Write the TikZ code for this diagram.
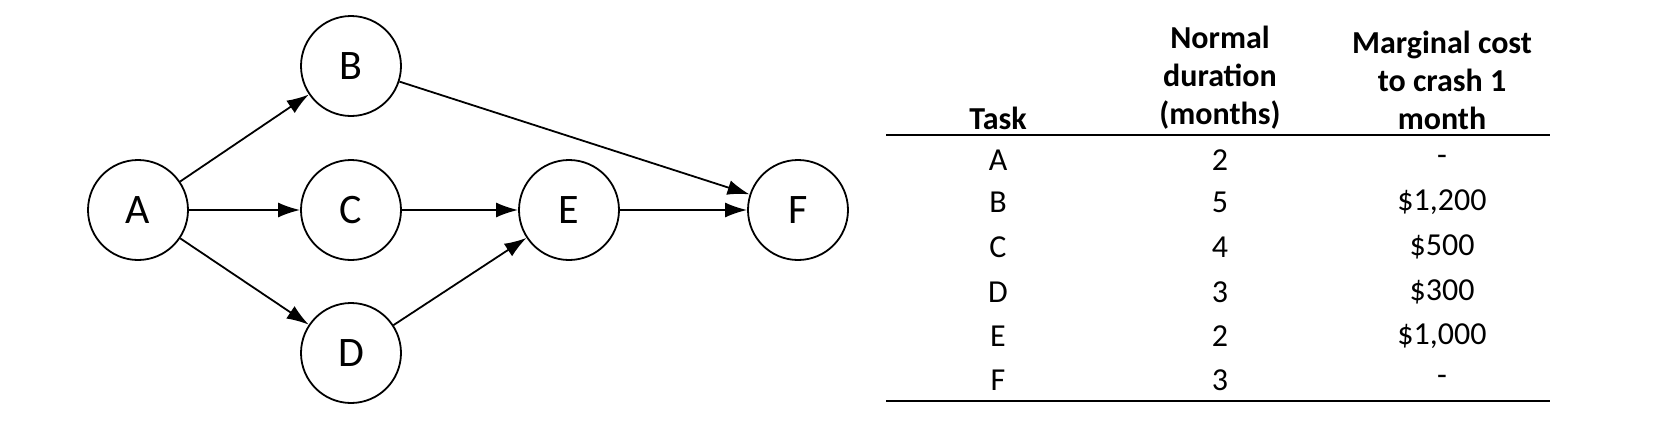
\documentclass[tikz,border=0pt]{standalone}
\usepackage{fontspec}
\setmainfont{Carlito}
\usetikzlibrary{arrows.meta}
\begin{document}
\begin{tikzpicture}[x=1pt,y=-1pt,
  nd/.style={circle,draw,line width=1.8pt,minimum size=100pt,inner sep=0pt,font=\fontsize{42}{42}\selectfont},
  ar/.style={line width=1.8pt,-{Latex[length=22pt,width=15pt]}},
  tx/.style={font=\fontsize{32}{38}\selectfont,inner sep=0pt},
  hd/.style={font=\fontsize{32}{38}\selectfont\bfseries,inner sep=0pt,align=center,anchor=south}]
\useasboundingbox (0,0) rectangle (1660,434);
\node[nd] (A) at (138,210) {A};
\node[nd] (B) at (351,66) {B};
\node[nd] (C) at (351,210) {C};
\node[nd] (D) at (351,353) {D};
\node[nd] (E) at (569,210) {E};
\node[nd] (F) at (798,210) {F};
\draw[ar] (A) -- (B);
\draw[ar] (A) -- (C);
\draw[ar] (A) -- (D);
\draw[ar] (B) -- (F);
\draw[ar] (C) -- (E);
\draw[ar] (D) -- (E);
\draw[ar] (E) -- (F);
\node[hd] (h1) at (998,130) {Task};
\node[hd] (h2) at (1220,130) {Normal\\duration\\(months)};
\node[hd] (h3) at (1442,130) {Marginal cost\\to crash 1\\month};
\coordinate (l1) at (886,135); \coordinate (r1) at (1550,135);
\coordinate (l2) at (886,401); \coordinate (r2) at (1550,401);
\draw[line width=2pt] (l1) -- (r1);
\draw[line width=2pt] (l2) -- (r2);
\foreach \t/\d/\c/\y in {A/2/-/160,B/5/{\$1,200}/202,C/4/\$500/247,D/3/\$300/292,E/2/{\$1,000}/336,F/3/-/380}{
  \node[tx] (t\t) at (998,\y) {\t};
  \node[tx] (d\t) at (1220,\y) {\d};
  \node[tx] (c\t) at (1442,\y) {\c};
}
\end{tikzpicture}
\end{document}
